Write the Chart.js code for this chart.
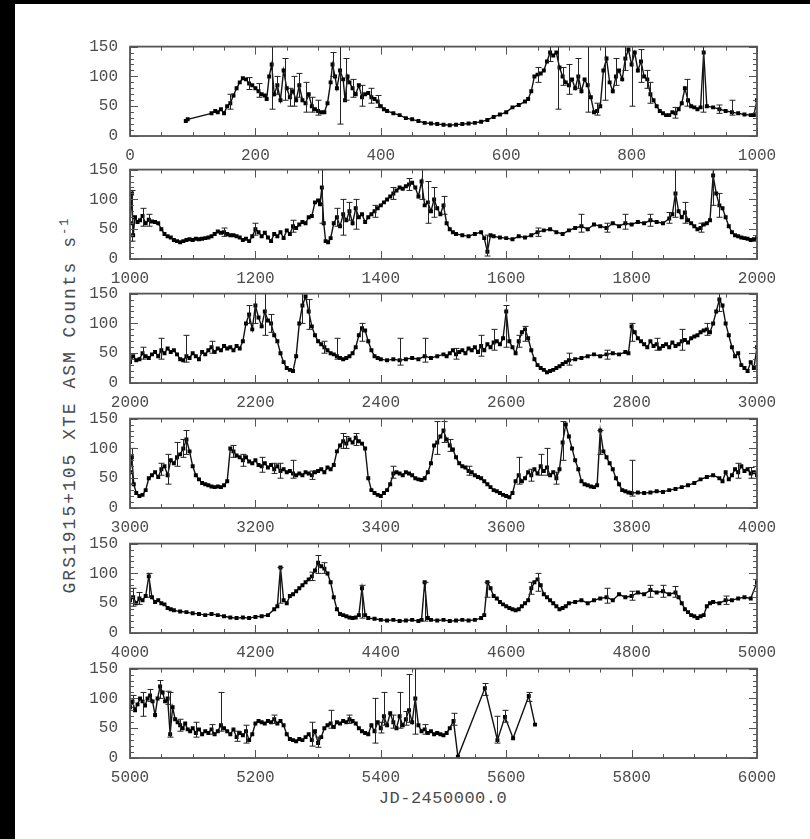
<!DOCTYPE html>
<html lang="en">
<head>
<meta charset="UTF-8">
<title>GRS1915+105 XTE ASM light curve</title>
<style>
  html, body { margin: 0; background: #000; overflow: hidden; }
  body { width: 810px; height: 839px; position: relative; }
  #page { position: absolute; left: 15px; top: 4px; right: 0; bottom: 0; background: #fff; }
  canvas.panel { position: absolute; left: 0; }
  .title { position: absolute; font-family: 'Liberation Mono', monospace; color: #4a4a4a; white-space: nowrap; }
  #xtitle { font-size: 17px; letter-spacing: 0.5px; left: 443px; top: 798px; transform: translate(-50%, -50%); }
  #ytitle { font-size: 18px; letter-spacing: 2px; left: 69px; top: 405px; transform: translate(-50%, -50%) rotate(-90deg); }
</style>
</head>
<body>
<div id="page"></div>
<div class="title" id="xtitle">JD-2450000.0</div>
<div class="title" id="ytitle">GRS1915+105 XTE ASM Counts s<sup style="font-size:12px">-1</sup></div>

<script src="https://cdn.jsdelivr.net/npm/chart.js"></script>
<script>

// day (JD-2450000) and ASM count rate
const days1 = [
  89,92,130,136,140,145,150,155,160,165,
  170,175,180,185,190,195,200,205,210,215,
  218,222,226,230,235,240,245,250,255,260,
  265,270,275,280,285,290,295,300,305,310,
  315,320,323,327,330,335,340,343,347,350,
  355,360,365,370,375,380,385,390,395,400,
  405,410,420,430,440,450,460,470,480,490,
  500,510,520,530,540,550,560,570,580,590,
  600,610,620,630,635,640,645,650,655,660,
  665,670,675,680,685,690,695,700,705,710,
  715,720,725,730,735,740,745,750,755,760,
  765,770,775,780,785,790,795,800,805,810,
  815,820,825,830,835,840,845,850,855,860,
  865,870,875,880,885,890,895,900,905,910,
  915,920,930,940,950,960,970,980,990,995]
const rate1 = [
  25,28,38,42,40,45,38,50,55,68,
  80,90,97,95,88,85,80,75,70,68,
  62,100,120,70,85,60,110,80,65,75,
  60,85,60,55,70,50,45,42,40,40,
  55,90,120,100,80,110,95,60,100,90,
  80,70,85,65,70,72,65,62,58,50,
  45,42,38,35,30,28,25,22,21,20,
  19,18,19,20,21,22,24,27,32,36,
  40,48,52,58,62,75,100,103,105,110,
  125,140,135,140,115,100,90,85,95,80,
  100,75,95,85,65,40,42,50,110,130,
  90,75,100,110,95,130,145,120,140,110,
  125,100,95,70,60,50,42,38,35,35,
  40,38,45,55,80,60,50,48,45,48,
  140,50,48,45,42,40,38,36,35,35]

const days2 = [
  1000,1003,1005,1008,1012,1016,1020,1025,1030,1035,
  1040,1045,1050,1055,1060,1065,1070,1075,1080,1085,
  1090,1095,1100,1105,1110,1115,1120,1125,1130,1135,
  1140,1145,1150,1155,1160,1165,1170,1175,1180,1185,
  1190,1195,1200,1205,1210,1215,1220,1225,1230,1235,
  1240,1245,1250,1255,1260,1265,1270,1275,1280,1285,
  1290,1295,1300,1303,1306,1309,1312,1316,1320,1325,
  1330,1335,1340,1345,1350,1355,1360,1365,1370,1375,
  1380,1385,1390,1395,1400,1405,1410,1415,1420,1425,
  1430,1435,1440,1445,1450,1455,1460,1465,1470,1475,
  1480,1485,1490,1495,1500,1505,1510,1515,1520,1530,
  1540,1550,1560,1565,1570,1575,1580,1590,1600,1610,
  1620,1630,1640,1650,1660,1670,1680,1690,1700,1710,
  1720,1730,1740,1750,1760,1770,1780,1790,1800,1810,
  1820,1830,1840,1850,1860,1865,1870,1875,1880,1885,
  1890,1895,1900,1905,1910,1915,1920,1925,1930,1935,
  1940,1945,1950,1955,1960,1965,1970,1975,1980,1985,
  1990,1995]
const rate2 = [
  60,110,40,70,62,65,72,60,66,63,
  62,60,50,42,38,36,32,30,28,30,
  32,33,32,34,33,34,35,36,38,42,
  46,44,45,42,40,40,38,36,32,34,
  30,38,50,45,38,44,36,30,42,38,
  45,35,48,42,55,52,58,62,60,70,
  72,95,98,92,120,60,30,28,35,60,
  70,55,75,65,80,60,85,70,75,62,
  70,75,80,85,90,95,100,105,110,115,
  120,118,122,125,128,120,105,130,90,95,
  80,100,85,75,90,60,50,45,42,40,
  38,42,45,35,12,40,38,36,35,33,
  38,36,40,45,48,50,45,42,48,52,
  55,50,58,55,52,60,55,60,58,62,
  60,65,62,60,68,75,110,80,70,78,
  65,60,55,50,52,58,60,65,140,110,
  90,85,70,55,45,40,38,36,35,34,
  32,33]

const days3 = [
  2000,2005,2010,2015,2020,2025,2030,2035,2040,2045,
  2050,2055,2060,2065,2070,2075,2080,2085,2090,2095,
  2100,2105,2110,2115,2120,2125,2130,2135,2140,2145,
  2150,2155,2160,2165,2170,2175,2180,2185,2190,2195,
  2200,2205,2210,2215,2220,2225,2230,2235,2240,2245,
  2250,2255,2260,2265,2270,2275,2280,2285,2290,2295,
  2300,2305,2310,2315,2320,2325,2330,2335,2340,2345,
  2350,2355,2360,2365,2370,2375,2380,2385,2390,2395,
  2400,2410,2420,2430,2440,2450,2460,2470,2480,2490,
  2500,2505,2510,2515,2520,2525,2530,2535,2540,2545,
  2550,2555,2560,2565,2570,2575,2580,2585,2590,2595,
  2600,2605,2610,2615,2620,2625,2630,2635,2640,2645,
  2650,2655,2660,2665,2670,2675,2680,2685,2690,2695,
  2700,2710,2720,2730,2740,2750,2760,2770,2780,2790,
  2795,2800,2805,2810,2815,2820,2825,2830,2835,2840,
  2845,2850,2855,2860,2865,2870,2875,2880,2885,2890,
  2895,2900,2905,2910,2915,2920,2925,2930,2935,2940,
  2945,2950,2955,2960,2965,2970,2975,2980,2985,2990,
  2995]
const rate3 = [
  35,45,38,40,50,45,42,48,52,45,
  55,50,58,52,55,48,40,38,45,42,
  50,45,40,52,48,55,60,52,58,55,
  62,58,60,55,62,58,70,100,115,90,
  130,110,95,120,105,100,80,70,50,35,
  25,22,20,45,100,130,145,120,95,80,
  70,65,60,55,50,48,45,42,40,42,
  45,50,60,80,92,88,70,55,45,42,
  40,38,40,38,40,42,40,45,42,45,
  48,45,50,55,48,52,55,50,58,55,
  60,52,62,55,65,60,68,70,65,75,
  120,70,60,50,70,85,90,75,55,40,
  30,25,22,18,20,22,25,28,32,35,
  38,40,42,45,48,45,48,50,48,52,
  50,95,85,75,70,65,60,70,62,65,
  58,62,65,60,68,62,65,70,72,68,
  75,78,80,85,88,90,85,100,120,140,
  130,100,80,60,45,50,30,25,20,35,
  25]

const days4 = [
  3000,3003,3006,3010,3015,3020,3025,3030,3035,3040,
  3045,3050,3055,3060,3065,3070,3075,3080,3085,3090,
  3095,3100,3105,3110,3115,3120,3125,3130,3135,3140,
  3145,3150,3155,3160,3165,3170,3175,3180,3185,3190,
  3195,3200,3205,3210,3215,3220,3225,3230,3235,3240,
  3245,3250,3255,3260,3265,3270,3275,3280,3285,3290,
  3295,3300,3305,3310,3315,3320,3325,3330,3335,3340,
  3345,3350,3355,3360,3365,3370,3375,3380,3385,3390,
  3395,3400,3405,3410,3415,3420,3425,3430,3435,3440,
  3445,3450,3455,3460,3465,3470,3475,3480,3485,3490,
  3495,3500,3505,3510,3515,3520,3525,3530,3535,3540,
  3545,3550,3555,3560,3565,3570,3575,3580,3585,3590,
  3595,3600,3605,3610,3615,3620,3625,3630,3635,3640,
  3645,3650,3655,3660,3665,3670,3675,3680,3685,3690,
  3695,3700,3705,3710,3715,3720,3725,3730,3735,3740,
  3745,3750,3755,3760,3765,3770,3775,3780,3785,3790,
  3795,3800,3810,3820,3830,3840,3850,3860,3870,3880,
  3890,3900,3910,3920,3930,3940,3945,3950,3955,3960,
  3965,3970,3975,3980,3985,3990,3995]
const rate4 = [
  60,85,40,25,20,22,30,50,55,60,
  52,65,70,55,80,75,85,90,100,115,
  95,70,55,48,42,40,38,36,35,36,
  35,38,45,100,95,88,85,80,85,78,
  75,80,72,70,75,68,72,65,70,62,
  65,60,62,58,55,58,55,60,58,55,
  60,62,65,60,68,65,72,95,105,112,
  108,115,110,118,112,108,100,50,30,25,
  22,20,25,30,40,58,60,58,55,60,
  58,55,50,48,47,50,60,75,105,110,
  120,130,115,105,98,85,75,70,68,62,
  60,55,52,50,45,40,35,30,28,25,
  22,20,18,25,45,55,45,50,60,55,
  65,58,70,62,68,55,60,50,65,110,
  140,120,100,80,65,45,40,38,36,35,
  38,130,95,85,75,65,50,40,30,28,
  26,25,26,25,26,28,27,30,32,35,
  38,42,48,52,55,50,45,60,48,55,
  65,60,70,62,65,58,60]

const days5 = [
  4000,4005,4010,4015,4020,4025,4030,4035,4040,4045,
  4050,4055,4060,4065,4070,4080,4090,4100,4110,4120,
  4130,4140,4150,4160,4170,4180,4190,4200,4210,4220,
  4230,4235,4240,4245,4250,4255,4260,4265,4270,4275,
  4280,4285,4290,4295,4300,4305,4310,4315,4320,4325,
  4330,4335,4340,4345,4350,4355,4360,4365,4370,4375,
  4380,4390,4400,4410,4420,4430,4440,4450,4460,4465,
  4470,4475,4480,4490,4500,4510,4520,4530,4540,4550,
  4560,4565,4570,4575,4580,4585,4590,4595,4600,4605,
  4610,4615,4620,4625,4630,4635,4640,4645,4650,4655,
  4660,4665,4670,4675,4680,4685,4690,4695,4700,4710,
  4720,4730,4740,4750,4760,4770,4780,4790,4800,4810,
  4820,4830,4840,4850,4860,4870,4875,4880,4885,4890,
  4895,4900,4905,4910,4915,4920,4925,4930,4940,4950,
  4960,4970,4980,4990]
const rate5 = [
  55,60,50,58,55,62,95,60,52,55,
  50,48,42,40,38,36,35,33,32,30,
  32,30,28,26,25,26,25,27,28,30,
  40,45,110,55,50,62,65,70,75,80,
  85,90,95,105,118,112,108,100,85,60,
  40,32,30,28,26,25,26,30,75,30,
  25,24,22,21,22,20,21,22,20,22,
  85,25,22,21,22,20,21,22,21,22,
  25,30,85,75,62,58,52,48,45,42,
  40,38,40,45,50,55,75,85,90,80,
  65,60,55,50,45,40,42,45,50,52,
  55,50,55,58,60,55,65,60,62,68,
  65,72,68,70,65,68,60,50,40,35,
  30,28,25,28,30,45,50,52,50,55,
  55,58,60,58]

const days6 = [
  5000,5004,5008,5012,5016,5020,5024,5028,5032,5036,
  5040,5044,5048,5052,5056,5060,5064,5068,5072,5076,
  5080,5084,5088,5092,5096,5100,5105,5110,5115,5120,
  5125,5130,5135,5140,5145,5150,5155,5160,5165,5170,
  5175,5180,5185,5190,5195,5200,5205,5210,5215,5220,
  5225,5230,5235,5240,5245,5250,5255,5260,5265,5270,
  5275,5280,5285,5290,5295,5300,5305,5310,5315,5320,
  5325,5330,5335,5340,5345,5350,5355,5360,5365,5370,
  5375,5380,5385,5390,5395,5400,5405,5410,5415,5420,
  5425,5430,5435,5440,5445,5450,5455,5460,5465,5470,
  5475,5480,5485,5490,5495,5500,5505,5510,5516,5523,
  5566,5586,5598,5611,5636,5646]
const rate6 = [
  85,95,80,90,100,95,88,100,105,95,
  72,100,120,110,95,100,40,85,65,60,
  55,50,58,48,45,50,42,48,40,45,
  42,48,40,45,55,50,45,40,48,35,
  42,38,45,30,40,58,62,60,58,62,
  60,65,58,62,55,40,32,30,28,32,
  30,35,40,30,45,25,35,50,55,58,
  52,60,58,62,60,65,62,58,50,45,
  42,40,55,45,60,50,70,55,75,60,
  50,70,55,65,80,60,100,55,45,48,
  42,45,40,42,40,38,42,50,62,2,
  117,30,69,33,104,56]

// error bars: day, lower end, upper end (large ones first, then the smaller ones)
const barDay = [
  226,247,262,280,300,335,345,370,385,683,700,715,730,757,775,800,815,830,889,914,960,
  1003,1020,1306,1340,1360,1465,1475,1485,1570,1720,1790,1870,1885,1930,1940,
  2050,2090,2200,2215,2275,2285,2330,2370,2430,2470,2560,2580,2600,2630,2700,2800,2880,2940,
  3003,3060,3075,3090,3165,3210,3240,3260,3345,3360,3420,3490,3500,3620,3655,3665,3690,3750,3800,3970,
  4005,4030,4240,4300,4370,4470,4570,4650,4760,4830,4850,
  5020,5048,5064,5105,5145,5185,5290,5320,5390,5405,5430,5445,5455,5516,5566,5586,5598,5636,
  160,190,205,235,255,270,290,323,355,395,650,670,690,745,790,825,870,940,
  1030,1150,1200,1260,1330,1350,1390,1420,1445,1500,1650,1760,1830,1860,1910,
  2020,2130,2190,2225,2310,2520,2620,2760,2840,2920,
  3050,3085,3180,3230,3290,3340,3510,3540,3640,3680,3990,
  4015,4290,4310,4640,4800,4870,4950,
  5004,5032,5060,5080,5130,5170,5230,5300,5350,5400,5420,5440,5470]
const barLow = [
  45,60,50,40,35,20,60,50,55,45,70,80,40,60,85,50,90,55,50,40,35,
  30,55,60,40,50,100,60,70,5,45,50,70,60,90,70,
  40,35,100,80,100,90,40,70,30,35,45,55,60,70,30,70,55,120,
  40,40,70,90,85,60,50,50,100,105,50,90,110,40,55,55,80,90,20,50,
  45,60,50,100,25,20,60,70,50,60,60,
  70,100,35,35,45,25,20,50,25,55,50,60,40,55,105,25,60,95,
  45,78,65,70,50,65,40,100,65,48,90,125,85,35,110,80,30,38,
  55,38,40,45,55,65,70,100,115,75,38,45,55,60,45,
  40,50,100,85,50,40,60,40,55,80,
  55,85,70,58,48,100,95,55,45,40,50,
  48,88,100,65,55,60,48,
  85,95,90,45,40,28,58,18,58,42,50,55,40]
const barHigh = [
  150,130,100,90,60,150,130,85,80,150,120,130,150,150,130,150,145,90,95,150,60,
  115,85,150,100,100,150,130,120,40,75,75,150,95,150,110,
  75,80,150,150,150,140,75,100,75,75,80,90,130,95,50,100,90,150,
  100,90,110,130,105,85,75,80,120,125,70,145,145,85,90,100,145,130,80,75,
  75,100,110,130,80,85,85,100,75,80,80,
  110,130,110,60,110,55,60,80,100,110,110,140,150,75,125,70,80,110,
  70,98,88,100,80,105,65,140,95,68,115,150,115,55,150,110,48,52,
  75,52,60,65,85,95,90,120,135,105,52,60,75,78,60,
  60,70,130,115,70,58,80,55,75,100,
  75,115,90,75,62,125,115,70,65,60,68,
  68,102,118,85,70,78,62,
  105,115,112,65,56,45,72,35,72,60,72,78,56]

const panelStarts = [0, 1000, 2000, 3000, 4000, 5000]
const panelTops = [37, 160, 284, 409, 534, 659]
const panelH = 99
const padTop = 12
const padBottom = 30

const allDays = [].concat(days1, days2, days3, days4, days5, days6)
const allRates = [].concat(rate1, rate2, rate3, rate4, rate5, rate6)

const tickFont = { family: 'Liberation Mono', size: 16 }
const axisGrey = '#4d4d4d'

// frame with inward ticks on all four sides, as in the original figure
const frameTicks = {
  id: 'frameTicks',
  afterDraw(chart) {
    const { ctx, chartArea: a, scales: { x, y } } = chart
    ctx.save()
    ctx.strokeStyle = '#555'
    ctx.lineWidth = 1
    ctx.beginPath()
    for (let d = x.min; d <= x.max; d += 50) {
      const px = Math.round(x.getPixelForValue(d)) + 0.5
      const len = (d % 200 === 0) ? 8 : 4
      ctx.moveTo(px, a.bottom); ctx.lineTo(px, a.bottom - len)
      ctx.moveTo(px, a.top); ctx.lineTo(px, a.top + len)
    }
    for (let v = 0; v <= 150; v += 10) {
      const py = Math.round(y.getPixelForValue(v)) + 0.5
      const len = (v % 50 === 0) ? 8 : 4
      ctx.moveTo(a.left, py); ctx.lineTo(a.left + len, py)
      ctx.moveTo(a.right, py); ctx.lineTo(a.right - len, py)
    }
    ctx.stroke()
    ctx.lineWidth = 1.8
    ctx.strokeRect(a.left, a.top, a.right - a.left, a.bottom - a.top)
    ctx.restore()
  }
}

const errorBars = {
  id: 'errorBars',
  afterDatasetsDraw(chart) {
    const { ctx, chartArea: a, scales: { x, y } } = chart
    ctx.save()
    ctx.beginPath()
    ctx.rect(a.left, a.top, a.right - a.left, a.bottom - a.top)
    ctx.clip()
    ctx.strokeStyle = '#222'
    ctx.lineWidth = 1
    ctx.beginPath()
    for (let i = 0; i < barDay.length; i++) {
      if (barDay[i] < x.min || barDay[i] > x.max) continue
      const px = Math.round(x.getPixelForValue(barDay[i])) + 0.5
      const y1 = y.getPixelForValue(barLow[i])
      const y2 = y.getPixelForValue(barHigh[i])
      ctx.moveTo(px, y1); ctx.lineTo(px, y2)
      ctx.moveTo(px - 3, y1); ctx.lineTo(px + 3, y1)
      ctx.moveTo(px - 3, y2); ctx.lineTo(px + 3, y2)
    }
    ctx.stroke()
    ctx.restore()
  }
}

for (let i = 0; i < panelStarts.length; i++) {
  const d0 = panelStarts[i]
  const canvas = document.createElement('canvas')
  canvas.className = 'panel'
  canvas.width = 810
  canvas.height = padTop + panelH + padBottom
  canvas.style.top = (panelTops[i] - padTop) + 'px'
  document.body.appendChild(canvas)

  const pts = []
  for (let k = 0; k < allDays.length; k++) {
    if (allDays[k] >= d0 - 30 && allDays[k] <= d0 + 1030) {
      pts.push({ x: allDays[k], y: allRates[k] })
    }
  }

  new Chart(canvas, {
    type: 'line',
    data: {
      datasets: [{
        data: pts,
        borderColor: '#111',
        backgroundColor: '#000',
        borderWidth: 1.4,
        pointStyle: 'rect',
        pointRadius: 2.8,
        pointBorderWidth: 0,
        tension: 0
      }]
    },
    options: {
      responsive: false,
      animation: false,
      events: [],
      layout: { padding: { left: 70, right: 53, top: padTop, bottom: 0 } },
      plugins: { legend: { display: false }, tooltip: { enabled: false } },
      scales: {
        x: {
          type: 'linear',
          min: d0,
          max: d0 + 1000,
          grid: { display: false, drawTicks: false },
          border: { display: false },
          ticks: { stepSize: 200, font: tickFont, color: axisGrey, padding: 10, maxRotation: 0, autoSkip: false,
                   callback: v => String(v) },
          afterFit: s => { s.height = padBottom }
        },
        y: {
          min: 0,
          max: 150,
          grid: { display: false, drawTicks: false },
          border: { display: false },
          ticks: { stepSize: 50, font: tickFont, color: axisGrey, padding: 12, callback: v => String(v) },
          afterFit: s => { s.width = 60 }
        }
      }
    },
    plugins: [errorBars, frameTicks]
  })
}

</script>
</body>
</html>
